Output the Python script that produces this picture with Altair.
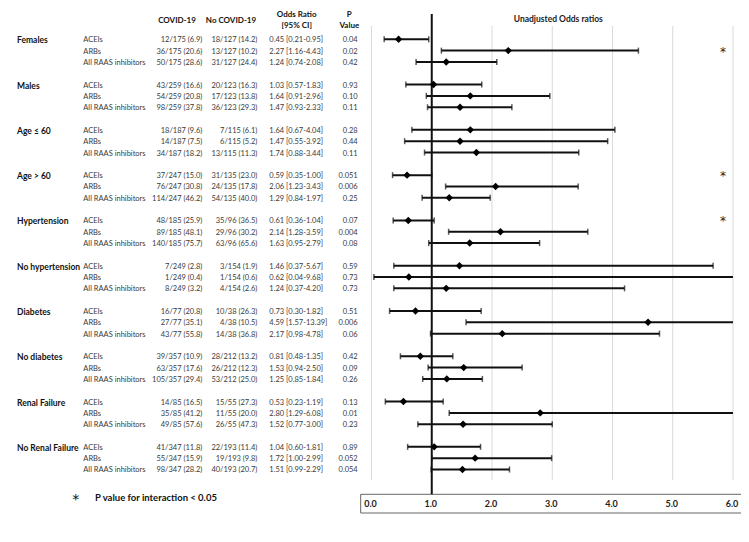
import altair as alt
import pandas as pd

# ---------------- data ----------------
groups = ["Females", "Males", "Age ≤ 60", "Age > 60", "Hypertension",
          "No hypertension", "Diabetes", "No diabetes", "Renal Failure",
          "No Renal Failure"]
drugs = ["ACEIs", "ARBs", "All RAAS inhibitors"]

covid = ["12/175 (6.9)", "36/175 (20.6)", "50/175 (28.6)",
         "43/259 (16.6)", "54/259 (20.8)", "98/259 (37.8)",
         "18/187 (9.6)", "14/187 (7.5)", "34/187 (18.2)",
         "37/247 (15.0)", "76/247 (30.8)", "114/247 (46.2)",
         "48/185 (25.9)", "89/185 (48.1)", "140/185 (75.7)",
         "7/249 (2.8)", "1/249 (0.4)", "8/249 (3.2)",
         "16/77 (20.8)", "27/77 (35.1)", "43/77 (55.8)",
         "39/357 (10.9)", "63/357 (17.6)", "105/357 (29.4)",
         "14/85 (16.5)", "35/85 (41.2)", "49/85 (57.6)",
         "41/347 (11.8)", "55/347 (15.9)", "98/347 (28.2)"]
no_covid = ["18/127 (14.2)", "13/127 (10.2)", "31/127 (24.4)",
            "20/123 (16.3)", "17/123 (13.8)", "36/123 (29.3)",
            "7/115 (6.1)", "6/115 (5.2)", "13/115 (11.3)",
            "31/135 (23.0)", "24/135 (17.8)", "54/135 (40.0)",
            "35/96 (36.5)", "29/96 (30.2)", "63/96 (65.6)",
            "3/154 (1.9)", "1/154 (0.6)", "4/154 (2.6)",
            "10/38 (26.3)", "4/38 (10.5)", "14/38 (36.8)",
            "28/212 (13.2)", "26/212 (12.3)", "53/212 (25.0)",
            "15/55 (27.3)", "11/55 (20.0)", "26/55 (47.3)",
            "22/193 (11.4)", "19/193 (9.8)", "40/193 (20.7)"]
odds = [0.45, 2.27, 1.24, 1.03, 1.64, 1.47, 1.64, 1.47, 1.74,
        0.59, 2.06, 1.29, 0.61, 2.14, 1.63, 1.46, 0.62, 1.24,
        0.73, 4.59, 2.17, 0.81, 1.53, 1.25, 0.53, 2.80, 1.52,
        1.04, 1.72, 1.51]
ci_low = [0.21, 1.16, 0.74, 0.57, 0.91, 0.93, 0.67, 0.55, 0.88,
          0.35, 1.23, 0.84, 0.36, 1.28, 0.95, 0.37, 0.04, 0.37,
          0.30, 1.57, 0.98, 0.48, 0.94, 0.85, 0.23, 1.29, 0.77,
          0.60, 1.00, 0.99]
ci_high = [0.95, 4.43, 2.08, 1.83, 2.96, 2.33, 4.04, 3.92, 3.44,
           1.00, 3.43, 1.97, 1.04, 3.59, 2.79, 5.67, 9.68, 4.20,
           1.82, 13.39, 4.78, 1.35, 2.50, 1.84, 1.19, 6.08, 3.00,
           1.81, 2.99, 2.29]
p_values = ["0.04", "0.02", "0.42", "0.93", "0.10", "0.11",
            "0.28", "0.44", "0.11", "0.051", "0.006", "0.25",
            "0.07", "0.004", "0.08", "0.59", "0.73", "0.73",
            "0.51", "0.006", "0.06", "0.42", "0.09", "0.26",
            "0.13", "0.01", "0.23", "0.89", "0.052", "0.054"]
interaction_groups = ["Females", "Age > 60", "Hypertension"]
interaction_drug = ["ARBs", "ACEIs", "ACEIs"]
x_ticks = [0, 1, 2, 3, 4, 5, 6]
grid_ticks = [0, 2, 3, 4, 5, 6]
col_headers = ["COVID-19", "No COVID-19", "Odds Ratio", "[95% CI]", "P", "Value"]
plot_title = "Unadjusted Odds ratios"
footnote = "P value for interaction < 0.05"

X_MAX = 6

rows = []
for g, grp in enumerate(groups):
    for d, drug in enumerate(drugs):
        k = g * 3 + d
        rows.append(dict(
            row=4 * g + d,
            group=grp if d == 0 else "",
            drug=drug,
            covid=covid[k],
            nocovid=no_covid[k],
            ortext=f"{odds[k]:.2f} [{ci_low[k]:.2f}-{ci_high[k]:.2f}]",
            p=p_values[k],
            orv=odds[k],
            lo=ci_low[k],
            hi=min(ci_high[k], X_MAX),
            hicap=ci_high[k] <= X_MAX,
        ))
df = pd.DataFrame(rows)
caps = pd.concat([
    pd.DataFrame({"row": df["row"], "v": df["lo"]}),
    pd.DataFrame({"row": df.loc[df["hicap"], "row"], "v": df.loc[df["hicap"], "hi"]}),
])
stars = pd.DataFrame({
    "row": [4 * groups.index(g) + drugs.index(d) for g, d in zip(interaction_groups, interaction_drug)],
    "t": ["*"] * len(interaction_groups),
})

# ---------------- layout (plot coords = image coords - 8) ----------------
W, H = 733, 526
FONT = "Lato"
xscale = alt.Scale(domain=[0, 6], range=[363.5, 725])
yscale = alt.Scale(domain=[0, 39], range=[31.3, 472.8])
Y = alt.Y("row:Q", scale=yscale, axis=None)

layers = []

# grid lines
layers.append(alt.Chart(pd.DataFrame({"t": grid_ticks})).mark_rule(
    color="#d9d9d9", strokeWidth=1).encode(
    x=alt.X("t:Q", scale=xscale, axis=None), y=alt.value(18), y2=alt.value(472)))

# axis box
layers.append(alt.Chart(pd.DataFrame({"a": [0]})).mark_rect(
    fill="white", stroke="#666666", strokeWidth=1).encode(
    x=alt.value(352.7), x2=alt.value(760), y=alt.value(486.3), y2=alt.value(505)))

# reference line at 1
layers.append(alt.Chart(pd.DataFrame({"t": [1]})).mark_rule(
    color="#111111", strokeWidth=2).encode(
    x=alt.X("t:Q", scale=xscale, axis=None), y=alt.value(6), y2=alt.value(486.3)))

# tick labels
layers.append(alt.Chart(pd.DataFrame({"t": x_ticks})).mark_text(
    font=FONT, fontSize=9, fontWeight="bold", color="#222222", dx=-1,
    baseline="middle").encode(
    x=alt.X("t:Q", scale=xscale, axis=None), y=alt.value(496),
    text=alt.Text("t:Q", format=".1f")))

# CI lines
layers.append(alt.Chart(df).mark_rule(color="#111111", strokeWidth=2).encode(
    x=alt.X("lo:Q", scale=xscale, axis=None), x2="hi:Q", y=Y))
# caps
layers.append(alt.Chart(caps).mark_tick(
    orient="vertical", size=6, thickness=1.5, color="#111111").encode(
    x=alt.X("v:Q", scale=xscale, axis=None), y=Y))
# points
layers.append(alt.Chart(df).mark_point(
    shape="diamond", filled=True, size=55, color="#000000", opacity=1).encode(
    x=alt.X("orv:Q", scale=xscale, axis=None), y=Y))

# stars
layers.append(alt.Chart(stars).mark_text(
    font="DejaVu Sans", fontSize=12, color="#222222", baseline="middle", dy=1).encode(
    x=alt.value(715), y=Y, text="t:N"))

# table text
txt = dict(font=FONT, fontSize=7.5, color="#3a3a3a", baseline="middle", dy=1)
layers.append(alt.Chart(df).mark_text(align="left", font=FONT, fontSize=8.5,
    fontWeight="bold", color="#111111", baseline="middle", dy=1).encode(
    x=alt.value(9), y=Y, text="group:N"))
layers.append(alt.Chart(df).mark_text(align="left", **txt).encode(
    x=alt.value(75.3), y=Y, text="drug:N"))
layers.append(alt.Chart(df).mark_text(align="right", **txt).encode(
    x=alt.value(194.3), y=Y, text="covid:N"))
layers.append(alt.Chart(df).mark_text(align="right", **txt).encode(
    x=alt.value(249.3), y=Y, text="nocovid:N"))
layers.append(alt.Chart(df).mark_text(align="left", **txt).encode(
    x=alt.value(261.3), y=Y, text="ortext:N"))
layers.append(alt.Chart(df).mark_text(align="right", **txt).encode(
    x=alt.value(349.7), y=Y, text="p:N"))

# headers
hdr_pos = [(169, 12.7), (223, 12.7), (288.7, 7.3), (288.7, 18), (341.3, 7), (341.3, 17.7)]
for label, (hx, hy) in zip(col_headers, hdr_pos):
    layers.append(alt.Chart(pd.DataFrame({"t": [label]})).mark_text(
        font=FONT, fontSize=8, fontWeight="bold", color="#111111",
        align="center", baseline="middle").encode(
        x=alt.value(hx), y=alt.value(hy), text="t:N"))

# plot title
layers.append(alt.Chart(pd.DataFrame({"t": [plot_title]})).mark_text(
    font=FONT, fontSize=8.5, fontWeight="bold", color="#222222",
    align="center", baseline="middle").encode(
    x=alt.value(550.3), y=alt.value(11.3), text="t:N"))

# footnote
layers.append(alt.Chart(pd.DataFrame({"t": ["*"]})).mark_text(
    font="DejaVu Sans", fontSize=14, color="#111111", align="center", baseline="middle", dy=3).encode(
    x=alt.value(67.7), y=alt.value(489.3), text="t:N"))
layers.append(alt.Chart(pd.DataFrame({"t": [footnote]})).mark_text(
    font=FONT, fontSize=9.5, fontWeight="bold", color="#111111",
    align="left", baseline="middle").encode(
    x=alt.value(87), y=alt.value(490.3), text="t:N"))

chart = alt.layer(*layers).properties(
    width=W, height=H, padding=0,
    autosize=alt.AutoSizeParams(type="none"),
).configure_view(stroke=None)

chart.save("out.html", embed_options={"renderer": "svg", "actions": False})
